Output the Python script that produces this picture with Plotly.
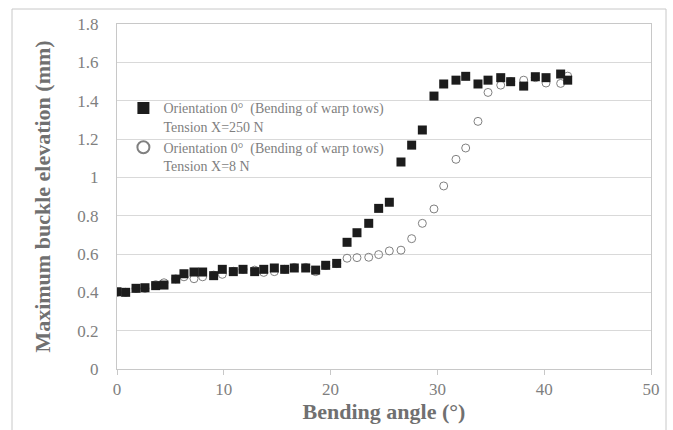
import plotly.graph_objects as go

# Bending angle (deg) - experimental steps
angle = [0.0, 0.81, 1.78, 2.62, 3.62, 4.40, 5.50, 6.27, 7.21, 8.02, 9.05, 9.86,
         10.89, 11.80, 12.89, 13.74, 14.73, 15.70, 16.60, 17.67, 18.60, 19.54,
         20.57, 21.54, 22.47, 23.57, 24.50, 25.50, 26.59, 27.59, 28.59, 29.68,
         30.59, 31.74, 32.65, 33.80, 34.74, 35.93, 36.86, 38.08, 39.17, 40.17,
         41.54, 42.20]

# Tension X = 250 N (filled squares)
elev_250 = [0.403, 0.400, 0.421, 0.424, 0.435, 0.438, 0.469, 0.497, 0.506, 0.506,
            0.487, 0.520, 0.508, 0.520, 0.508, 0.520, 0.527, 0.520, 0.527, 0.527,
            0.516, 0.541, 0.551, 0.661, 0.711, 0.760, 0.838, 0.870, 1.080, 1.168,
            1.247, 1.424, 1.487, 1.507, 1.527, 1.487, 1.507, 1.520, 1.499, 1.476,
            1.525, 1.520, 1.539, 1.507]

# Tension X = 8 N (open circles)
elev_8 = [0.40, 0.40, 0.42, 0.42, 0.44, 0.450, 0.47, 0.481, 0.471, 0.481,
          0.49, 0.494, 0.51, 0.52, 0.516, 0.504, 0.508, 0.52, 0.53, 0.53,
          0.508, 0.54, 0.55, 0.578, 0.581, 0.583, 0.597, 0.616, 0.62, 0.68,
          0.76, 0.835, 0.955, 1.094, 1.153, 1.292, 1.443, 1.481, 1.50, 1.507,
          1.52, 1.492, 1.490, 1.528]

name_250 = "Orientation 0°\u00a0 (Bending of warp tows)<br>Tension X=250 N"
name_8 = "Orientation 0°\u00a0 (Bending of warp tows)<br>Tension X=8 N"

x_ticks = [0, 10, 20, 30, 40, 50]
y_ticks = [0, 0.2, 0.4, 0.6, 0.8, 1, 1.2, 1.4, 1.6, 1.8]
y_ticklabels = ["0", "0.2", "0.4", "0.6", "0.8", "1", "1.2", "1.4", "1.6", "1.8"]

FONT = "Liberation Serif, Times New Roman, serif"

fig = go.Figure()
fig.add_trace(go.Scatter(
    x=angle, y=elev_8, mode="markers", name=name_8, legendrank=2,
    marker=dict(symbol="circle-open", size=8, color="#808080",
                line=dict(width=1, color="#808080")),
))
fig.add_trace(go.Scatter(
    x=angle, y=elev_250, mode="markers", name=name_250, legendrank=1,
    marker=dict(symbol="square", size=9, color="#1c1c1c",
                line=dict(width=0)),
))

W, H = 673, 430
L, R, T, B = 117, 651, 24, 369
fig.update_layout(
    width=W, height=H,
    margin=dict(l=L, r=W - R, t=T, b=H - B, autoexpand=False),
    paper_bgcolor="white", plot_bgcolor="white",
    font=dict(family=FONT, color="#7f7f7f", size=17),
    showlegend=True,
    legend=dict(x=0.012, y=0.802, xanchor="left", yanchor="top",
                bgcolor="rgba(0,0,0,0)", valign="top",
                font=dict(family=FONT, size=14, color="#7f7f7f"),
                tracegroupgap=0, itemsizing="constant"),
    xaxis=dict(range=[0, 50], tickvals=x_ticks, showgrid=False,
               showline=True, linecolor="#c8c8c8", linewidth=1, mirror=True,
               ticks="outside", ticklen=5, tickcolor="#c8c8c8",
               zeroline=False, fixedrange=True,
               tickfont=dict(family=FONT, size=17, color="#7f7f7f"),
               title=dict(text="<b>Bending angle (°)</b>", standoff=4,
                          font=dict(family=FONT, size=22, color="#707070"))),
    yaxis=dict(range=[0, 1.8], tickvals=y_ticks, ticktext=y_ticklabels,
               showgrid=True, gridcolor="#d9d9d9", gridwidth=1,
               showline=True, linecolor="#c8c8c8", linewidth=1, mirror=True,
               ticks="", ticklabelstandoff=14, zeroline=False, fixedrange=True,
               tickfont=dict(family=FONT, size=17, color="#7f7f7f"),
               title=dict(text="<b>Maximum buckle elevation (mm)</b>", standoff=20,
                          font=dict(family=FONT, size=22, color="#707070"))),
)

# outer chart frame
pw, ph = R - L, B - T
fig.add_shape(type="rect", xref="paper", yref="paper",
              x0=(12 - L) / pw, x1=(666 - L) / pw,
              y0=(B - 440) / ph, y1=(B - 9) / ph,
              line=dict(color="#c8c8c8", width=1), layer="below")

fig.write_html("out.html")
